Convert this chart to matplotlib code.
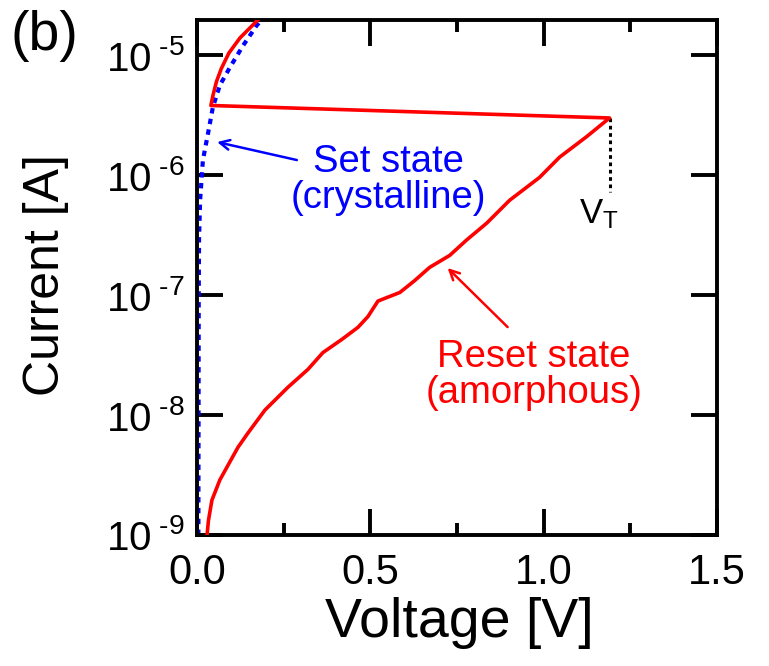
import matplotlib
matplotlib.use("Agg")
import matplotlib.pyplot as plt
from matplotlib.ticker import FixedLocator, NullLocator, LogLocator, FuncFormatter
import numpy as np

plt.rcParams["font.family"] = ["Liberation Sans", "DejaVu Sans"]
plt.rcParams["mathtext.fontset"] = "custom"
plt.rcParams["mathtext.rm"] = "Liberation Sans"
plt.rcParams["mathtext.default"] = "regular"
plt.rcParams["axes.unicode_minus"] = False

# reset sweep (amorphous) -> snap back at V_T -> set branch
reset_v = [0.029, 0.033, 0.043, 0.066, 0.118, 0.147, 0.196, 0.262, 0.32, 0.363,
           0.418, 0.464, 0.493, 0.522, 0.585, 0.628, 0.671, 0.729, 0.778, 0.836,
           0.902, 0.988, 1.046, 1.124, 1.19,
           0.040, 0.046, 0.056, 0.070, 0.092, 0.124, 0.161, 0.178]
reset_i = [1.0e-9, 1.32e-9, 1.95e-9, 2.88e-9, 5.37e-9, 7.08e-9, 1.10e-8, 1.70e-8, 2.40e-8, 3.31e-8,
           4.27e-8, 5.37e-8, 6.61e-8, 8.91e-8, 1.05e-7, 1.32e-7, 1.70e-7, 2.14e-7, 2.88e-7, 3.98e-7,
           6.17e-7, 9.55e-7, 1.41e-6, 2.09e-6, 2.99e-6,
           3.8e-6, 4.6e-6, 6.0e-6, 7.7e-6, 1.04e-5, 1.39e-5, 1.78e-5, 2.0e-5]

# set state (crystalline)
set_v = [0.004, 0.005, 0.006, 0.009, 0.017, 0.032, 0.046, 0.066, 0.095, 0.133, 0.173, 0.19]
set_i = [1.0e-9, 1.0e-7, 3.0e-7, 6.2e-7, 1.33e-6, 2.24e-6, 3.7e-6, 5.6e-6, 7.9e-6, 1.2e-5, 1.78e-5, 2.0e-5]

vt = 1.19
vt_i = [2.99e-6, 7.2e-7]

x_ticks = [0.0, 0.5, 1.0, 1.5]
x_labels = ["0.0", "0.5", "1.0", "1.5"]
x_minor = [0.25, 0.75, 1.25]


def decade_label(val, pos):
    n = int(round(np.log10(val)))
    return r"10$^{\text{ %d}}$" % n


W, H = 769, 666
fig = plt.figure(figsize=(W / 100, H / 100), dpi=100)
ax = fig.add_axes([197 / W, (H - 535) / H, 520 / W, 515 / H])

ax.plot(set_v, set_i, color="#0000ff", lw=3.0, linestyle=(0, (1.3, 1.3)), zorder=2)
ax.plot(reset_v, reset_i, color="#ff0000", lw=2.6, zorder=3)
ax.plot([vt, vt], vt_i, color="black", lw=2.2, linestyle=(0, (1.2, 1.2)), zorder=2)

ax.set_yscale("log")
ax.set_xlim(0, 1.5)
ax.set_ylim(1e-9, 1.96e-5)

ax.xaxis.set_major_locator(FixedLocator(x_ticks))
ax.set_xticklabels(x_labels)
ax.xaxis.set_minor_locator(FixedLocator(x_minor))
ax.yaxis.set_major_locator(LogLocator(base=10, numticks=10))
ax.yaxis.set_minor_locator(NullLocator())
ax.yaxis.set_major_formatter(FuncFormatter(decade_label))

for s in ax.spines.values():
    s.set_linewidth(2.8)
ax.tick_params(which="both", direction="in", top=True, right=True, width=2.8)
ax.tick_params(which="major", length=19)
ax.tick_params(which="minor", length=8.5)
ax.tick_params(axis="x", which="major", labelsize=30, pad=13)
ax.tick_params(axis="y", which="major", labelsize=29, pad=9)

ax.set_xlabel("Voltage [V]", fontsize=40, va="top")
ax.xaxis.set_label_coords(0.504, -0.12)
ax.set_ylabel("Current [A]", fontsize=36, va="center")
ax.yaxis.set_label_coords(-0.29, 0.505)

ax.text(0.553, 10 ** -6.042, "Set state\n(crystalline)", color="#0000ff", fontsize=27.5,
        ha="center", va="center", linespacing=1.0)
ax.annotate("", xy=(0.058, 10 ** -5.725), xytext=(0.288, 10 ** -5.875),
            arrowprops=dict(arrowstyle="->,head_length=0.7,head_width=0.35",
                            color="#0000ff", lw=1.8, shrinkA=0, shrinkB=0))

ax.text(0.971, 10 ** -7.667, "Reset state\n(amorphous)", color="#ff0000", fontsize=27.5,
        ha="center", va="center", linespacing=1.0)
ax.annotate("", xy=(0.723, 10 ** -6.775), xytext=(0.896, 10 ** -7.267),
            arrowprops=dict(arrowstyle="->,head_length=0.7,head_width=0.35",
                            color="#ff0000", lw=1.8, shrinkA=0, shrinkB=0))

ax.text(1.158, 10 ** -6.33, r"V$_{\mathregular{T}}$", color="black", fontsize=25,
        ha="center", va="center")

fig.text(10 / W, 1 - 10 / H, "(b)", fontsize=40, ha="left", va="top")

fig.savefig("out.png", dpi=100)
